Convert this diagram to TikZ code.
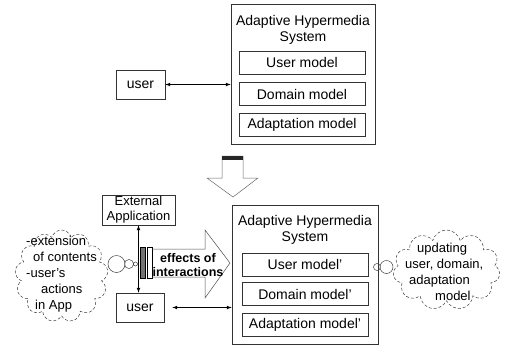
\documentclass[tikz,border=0pt]{standalone}
\usepackage{fontspec}
\setmainfont{Liberation Sans}
\usetikzlibrary{shapes.symbols,positioning}

\begin{document}
\begin{tikzpicture}[x=1pt,y=-1pt,
    box/.style={draw=black!80, line width=0.6pt, inner sep=0pt},
    lbl/.style={font=\fontsize{14}{16}\selectfont, align=center},
    note/.style={font=\fontsize{13}{16}\selectfont, align=left, inner sep=0pt, anchor=west},
    link/.style={<->, >=latex, line width=0.7pt},
    puff/.style={draw=black!75, densely dashed, line width=0.5pt},
    bubble/.style={cloud, cloud ignores aspect, puff, inner sep=0pt}]
    \useasboundingbox (0,0) rectangle (506,346);

    % before
    \node[box, lbl, minimum width=49, minimum height=29] (userA) at (140.5,84.5) {user};
    \node[box, minimum width=144, minimum height=140] (sysA) at (303,74) {};
    \node[lbl] (titleA) at (303,30) {Adaptive Hypermedia\\System};
    \node[box, lbl, minimum width=126, minimum height=23] (umA) at (302,62.5) {User model};
    \node[box, lbl, minimum width=126, minimum height=23] (dmA) at (302,94) {Domain model};
    \node[box, lbl, minimum width=126, minimum height=23] (amA) at (302,125) {Adaptation model};
    \draw[link] (userA.east) -- (userA.east -| sysA.west);

    % down arrow
    \draw[line width=0.5pt, draw=black!60] (222,156) -- (243,156) -- (243,178) -- (258,178)
        -- (233,197) -- (207,178) -- (222,178) -- cycle;
    \fill[black!85] (222,156) rectangle (243,160);

    % after
    \node[box, font=\fontsize{13}{15}\selectfont, align=center, minimum width=73, minimum height=30]
        (ext) at (138.5,210) {External\\Application};
    \node[box, lbl, minimum width=48, minimum height=29] (userB) at (140,307.5) {user};
    \node[box, minimum width=146, minimum height=139] (sysB) at (305,274.5) {};
    \node[lbl] (titleB) at (305,230) {Adaptive Hypermedia\\System};
    \node[box, lbl, minimum width=126, minimum height=23] (umB) at (305,264.5) {User model'};
    \node[box, lbl, minimum width=126, minimum height=23] (dmB) at (305,294) {Domain model'};
    \node[box, lbl, minimum width=126, minimum height=23] (amB) at (305,325) {Adaptation model'};
    \draw[link] (ext.south) -- (ext.south |- userB.north);
    \draw[link, shorten <=8pt] (userB.east) -- (userB.east -| sysB.west);

    % effects of interactions
    \draw[line width=0.5pt, fill=black!55] (140,247) rectangle (145,278);
    \draw[line width=0.5pt] (147,247) rectangle (152,278);
    \draw[line width=0.5pt, draw=black!70] (152,249) -- (205,249) -- (205,230) -- (230,263)
        -- (205,298) -- (205,277) -- (152,277);
    \node[font=\bfseries\fontsize{12.5}{14}\selectfont, align=center] (effects) at (188,265)
        {effects of\\interactions};

    % thoughts
    \node[bubble, cloud puffs=13, minimum width=93, minimum height=92] (cloudL) at (61.5,276) {};
    \node[note] (noteL) at (26,274.5)
        {-extension\\\hspace{7pt}of contents\\-user's\\\hspace{15pt}actions\\\hspace{9pt}in App};
    \draw[puff, solid] (116.5,264) circle [radius=8.5] (129,264) circle [radius=4.5]
        (135.5,264) circle [radius=2];

    \node[bubble, cloud puffs=11, minimum width=107, minimum height=80] (cloudR) at (446.5,270) {};
    \node[note] (noteR) at (405,272)
        {\hspace{12pt}updating\\user, domain,\\\hspace{4pt}adaptation\\\hspace{30pt}model};
    \draw[puff, solid] (377,267) circle [radius=3.5] (386.5,267) circle [radius=6.5];
\end{tikzpicture}
\end{document}
